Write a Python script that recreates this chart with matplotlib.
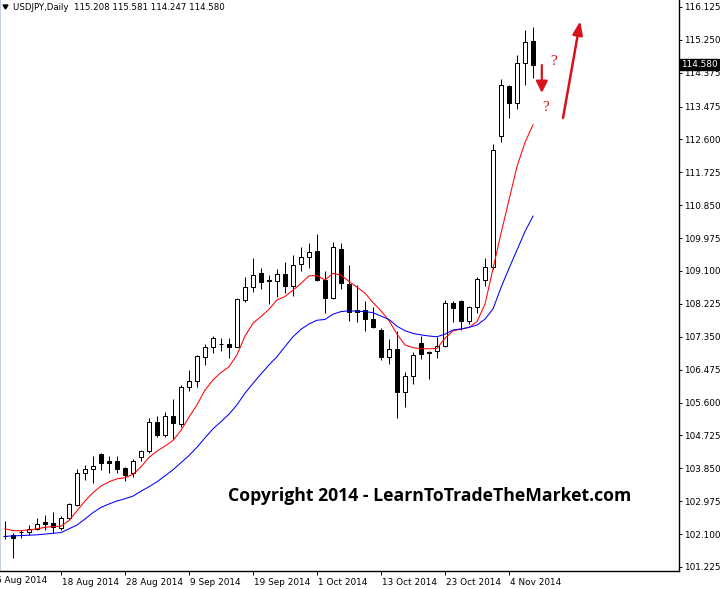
import matplotlib
matplotlib.use("Agg")
import matplotlib.pyplot as plt
import matplotlib.transforms as mtransforms
from matplotlib.patches import Polygon

# Daily USDJPY candles, 7 Aug 2014 .. 7 Nov 2014
opens = [102.06, 102.08, 102.15, 102.15, 102.23, 102.42, 102.40, 102.26, 102.54, 102.87,
         103.72, 103.82, 104.23, 104.04, 104.04, 103.85, 103.72, 104.14, 104.31, 105.07,
         104.74, 105.23, 105.02, 106.00, 106.16, 106.82, 107.07, 107.16, 107.16, 107.09,
         108.33, 108.67, 109.04, 108.85, 108.84, 109.02, 108.71, 109.28, 109.46, 109.63,
         108.86, 108.39, 109.68, 108.75, 108.06, 108.06, 107.82, 107.53, 106.82, 107.02,
         105.89, 106.31, 107.18, 106.91, 106.97, 107.11, 108.24, 108.31, 107.78, 108.13,
         108.86, 109.20, 112.68, 114.02, 113.58, 114.63, 115.208]
highs = [102.44, 102.12, 102.21, 102.33, 102.53, 102.60, 102.68, 102.58, 102.92, 103.82,
         103.94, 104.18, 104.25, 104.18, 104.18, 103.89, 104.09, 104.35, 105.20, 105.25,
         105.35, 105.69, 106.07, 106.47, 106.87, 107.16, 107.37, 107.33, 107.31, 108.37,
         108.93, 109.44, 109.17, 108.99, 109.14, 109.35, 109.53, 109.75, 109.84, 110.09,
         109.10, 109.88, 109.84, 109.26, 108.73, 108.31, 108.13, 107.57, 107.28, 107.49,
         106.42, 106.95, 107.37, 106.97, 107.34, 108.33, 108.30, 108.33, 108.17, 108.95,
         109.44, 112.48, 114.20, 114.04, 114.85, 115.51, 115.581]
lows = [101.96, 101.47, 101.99, 102.08, 102.20, 102.21, 102.14, 102.21, 102.47, 102.85,
        103.55, 103.47, 103.80, 103.72, 103.72, 103.51, 103.63, 104.05, 104.27, 104.69,
        104.69, 104.63, 104.95, 105.92, 106.00, 106.60, 106.93, 106.98, 106.78, 107.07,
        108.28, 108.55, 108.61, 108.22, 108.40, 108.51, 108.44, 109.11, 109.17, 108.84,
        107.99, 108.35, 108.62, 107.78, 107.73, 107.49, 107.59, 106.73, 106.63, 105.18,
        105.47, 106.09, 106.75, 106.22, 106.78, 107.09, 107.75, 107.53, 107.69, 107.97,
        108.71, 109.14, 112.54, 113.16, 113.40, 114.05, 114.247]
closes = [102.04, 102.00, 102.16, 102.23, 102.38, 102.37, 102.29, 102.54, 102.89, 103.72,
          103.82, 103.90, 104.00, 104.00, 103.84, 103.68, 104.04, 104.32, 105.07, 104.74,
          105.23, 105.06, 106.00, 106.16, 106.84, 107.07, 107.31, 107.15, 107.09, 108.35,
          108.67, 108.99, 108.82, 108.84, 109.01, 108.71, 109.26, 109.46, 109.60, 108.86,
          108.39, 109.73, 108.77, 108.02, 108.00, 107.81, 107.62, 106.82, 107.02, 105.89,
          106.31, 106.86, 106.90, 106.95, 107.11, 108.24, 108.12, 107.78, 108.13, 108.88,
          109.20, 112.32, 114.05, 113.58, 114.63, 115.19, 114.580]

# moving averages as drawn on the chart
ma_fast = [102.24, 102.19, 102.19, 102.21, 102.24, 102.28, 102.30, 102.31, 102.46, 102.72,
           102.98, 103.20, 103.38, 103.49, 103.57, 103.60, 103.69, 103.89, 104.14, 104.31,
           104.44, 104.59, 104.86, 105.21, 105.54, 105.93, 106.20, 106.40, 106.55, 106.87,
           107.37, 107.71, 107.89, 108.08, 108.33, 108.42, 108.59, 108.77, 108.97, 108.98,
           108.86, 109.04, 108.99, 108.82, 108.67, 108.51, 108.26, 108.04, 107.78, 107.42,
           107.13, 107.06, 107.03, 107.03, 107.04, 107.31, 107.51, 107.55, 107.60, 107.75,
           108.22, 109.16, 110.10, 110.99, 111.88, 112.52, 112.99]
ma_slow = [102.04, 102.05, 102.06, 102.07, 102.08, 102.10, 102.12, 102.14, 102.24, 102.34,
           102.50, 102.67, 102.81, 102.90, 102.98, 103.04, 103.11, 103.24, 103.36, 103.49,
           103.65, 103.81, 104.00, 104.19, 104.41, 104.66, 104.90, 105.09, 105.29, 105.54,
           105.85, 106.11, 106.36, 106.60, 106.82, 107.09, 107.35, 107.55, 107.69, 107.79,
           107.81, 107.95, 108.02, 108.04, 108.03, 108.02, 107.99, 107.90, 107.81, 107.63,
           107.51, 107.44, 107.40, 107.37, 107.35, 107.42, 107.53, 107.56, 107.60, 107.66,
           107.82, 108.09, 108.66, 109.17, 109.66, 110.15, 110.56]

date_ticks = [-1, 7, 15, 23, 31, 39, 47, 55, 63]
date_labels = ["6 Aug 2014", "18 Aug 2014", "28 Aug 2014", "9 Sep 2014", "19 Sep 2014",
               "1 Oct 2014", "13 Oct 2014", "23 Oct 2014", "4 Nov 2014"]
price_ticks = [101.225, 102.100, 102.975, 103.850, 104.725, 105.600, 106.475, 107.350,
               108.225, 109.100, 109.975, 110.850, 111.725, 112.600, 113.475, 114.375,
               115.250, 116.125]
price_labels = ["%.3f" % p for p in price_ticks]

W, H = 720, 589
fig = plt.figure(figsize=(W / 100, H / 100), dpi=100)
ax = fig.add_axes([0, 18 / H, 679 / W, 571 / H])

n = len(closes)
idx = list(range(n))
px = 0.72  # one pixel in points

# wicks
ax.vlines(idx, lows, highs, color="black", linewidth=px, zorder=2)
# bodies
for i in idx:
    o, c = opens[i], closes[i]
    bottom = min(o, c)
    height = max(abs(c - o), 0.012)
    face = "white" if c > o else "black"
    ax.bar(i, height, bottom=bottom, width=0.6, facecolor=face, edgecolor="black",
           linewidth=px, zorder=3)

ax.plot(idx, ma_fast, color="#ff0000", linewidth=0.75, zorder=4)
ax.plot(idx, ma_slow, color="#0000ff", linewidth=0.75, zorder=4)

ax.set_xlim(-0.625, 84.25)
ax.set_ylim(101.117, 116.311)

# axes styling, MT4 look
ax.spines["top"].set_visible(False)
ax.spines["left"].set_color("#b9c6da")
ax.spines["left"].set_linewidth(1.2)
ax.spines["right"].set_linewidth(1.0)
ax.spines["bottom"].set_linewidth(1.0)

ax.yaxis.tick_right()
ax.set_yticks(price_ticks)
ax.set_yticklabels(price_labels)
ax.tick_params(axis="y", direction="out", length=2.5, width=0.7, pad=1.5,
               labelsize=6.4, colors="black")

ax.set_xticks(date_ticks[1:])
ax.set_xticklabels(date_labels[1:], ha="left")
ax.tick_params(axis="x", direction="out", length=3, width=0.7, pad=2,
               labelsize=6.4)
shift = mtransforms.ScaledTranslation(1 / 100, 0, fig.dpi_scale_trans)
for lab in ax.get_xticklabels():
    lab.set_transform(lab.get_transform() + shift)
# first date label sits partly off the left edge, as in the terminal
trans_x = mtransforms.blended_transform_factory(ax.transData, ax.transAxes)
ax.text(date_ticks[0], -0.0095, date_labels[0],
        transform=trans_x + mtransforms.ScaledTranslation(-1 / 100, 0, fig.dpi_scale_trans),
        ha="left", va="top", fontsize=6.4, clip_on=False)

# header line
fig.text(13 / W, 1 - 7.5 / H, "USDJPY,Daily  115.208 115.581 114.247 114.580",
         fontsize=6.2, ha="left", va="center")
fig.patches.append(Polygon([[3 / W, 1 - 5 / H], [8 / W, 1 - 5 / H], [5.5 / W, 1 - 9 / H]],
                           closed=True, transform=fig.transFigure, color="black"))

# current price marker
fig.text(681 / W, 1 - 64.5 / H, "114.580", fontsize=6.4, color="white", ha="left",
         va="center", zorder=10,
         bbox=dict(boxstyle="square,pad=0.15", facecolor="black", edgecolor="black"))

# watermark
fig.text(430 / W, 1 - 496 / H, "Copyright 2014 - LearnToTradeTheMarket.com",
         fontsize=12.7, fontweight="bold", family="Open Sans", ha="center", va="center")

# red annotations
arrow_red = "#d7121c"
ax.annotate("", xy=(67.1, 113.84), xytext=(67.1, 114.58),
            arrowprops=dict(arrowstyle="-|>,head_width=0.35,head_length=0.7",
                            color=arrow_red, lw=1.6, shrinkA=0, shrinkB=0))
ax.annotate("", xy=(71.9, 115.75), xytext=(69.75, 113.17),
            arrowprops=dict(arrowstyle="-|>,head_width=0.3,head_length=0.8",
                            color=arrow_red, lw=1.8, shrinkA=0, shrinkB=0))
ax.text(68.6, 114.68, "?", color=arrow_red, fontsize=11, family="Liberation Serif",
        ha="center", va="center")
ax.text(67.6, 113.46, "?", color=arrow_red, fontsize=11, family="Liberation Serif",
        ha="center", va="center")

fig.savefig("out.png", dpi=100)
